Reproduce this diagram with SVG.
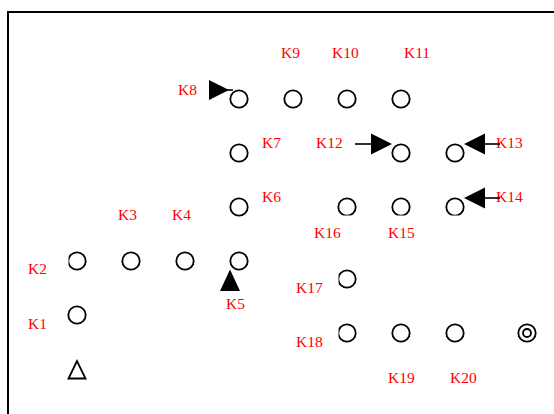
<svg xmlns="http://www.w3.org/2000/svg" width="554" height="414" viewBox="0 0 554 414">
  <style>
    .frame { fill: none; stroke: #000; stroke-width: 2; }
    .node { fill: none; stroke: #000; stroke-width: 1.8; }
    .lbl { font-family: "Liberation Serif", "Times New Roman", serif; font-size: 15.5px; fill: #ff0000; }
    .arrow { fill: #000; stroke: none; }
    .shaft { stroke: #000; stroke-width: 1.6; fill: none; }
    .open { fill: none; stroke: #000; stroke-width: 1.8; stroke-linejoin: miter; }
  </style>
  <defs>
    <!-- circles trimmed on one side by neighbouring label boxes -->
    <clipPath id="cutLeft77"><rect x="68.5" y="240" width="30" height="40"/></clipPath>
    <clipPath id="cutLeft347a"><rect x="338.5" y="260" width="30" height="40"/></clipPath>
    <clipPath id="cutLeft347b"><rect x="338.5" y="314" width="30" height="40"/></clipPath>
    <clipPath id="cutBottom207"><rect x="320" y="185" width="160" height="30.5"/></clipPath>
  </defs>

  <rect class="frame" x="8" y="12" width="560" height="420"/>

  <g id="nodes">
    <g id="K1"><circle class="node" cx="77" cy="315" r="8.7"/><text class="lbl" x="28" y="329">K1</text></g>
    <g id="K2"><circle class="node" cx="77" cy="261" r="8.7" clip-path="url(#cutLeft77)"/><text class="lbl" x="28" y="274">K2</text></g>
    <g id="K3"><circle class="node" cx="131" cy="261" r="8.7"/><text class="lbl" x="118" y="220">K3</text></g>
    <g id="K4"><circle class="node" cx="185" cy="261" r="8.7"/><text class="lbl" x="172" y="220">K4</text></g>
    <g id="K5"><circle class="node" cx="239" cy="261" r="8.7"/><text class="lbl" x="226" y="309">K5</text></g>
    <g id="K6"><circle class="node" cx="239" cy="207" r="8.7"/><text class="lbl" x="262" y="202">K6</text></g>
    <g id="K7"><circle class="node" cx="239" cy="153" r="8.7"/><text class="lbl" x="262" y="148">K7</text></g>
    <g id="K8"><circle class="node" cx="239" cy="99" r="8.7"/><text class="lbl" x="178" y="95">K8</text></g>
    <g id="K9"><circle class="node" cx="293" cy="99" r="8.7"/><text class="lbl" x="281" y="58">K9</text></g>
    <g id="K10"><circle class="node" cx="347" cy="99" r="8.7"/><text class="lbl" x="332" y="58">K10</text></g>
    <g id="K11"><circle class="node" cx="401" cy="99" r="8.7"/><text class="lbl" x="404" y="58">K11</text></g>
    <g id="K12"><circle class="node" cx="401" cy="153" r="8.7"/><text class="lbl" x="316" y="148">K12</text></g>
    <g id="K13"><circle class="node" cx="455" cy="153" r="8.7"/><text class="lbl" x="496" y="148">K13</text></g>
    <g id="K14"><circle class="node" cx="455" cy="207" r="8.7" clip-path="url(#cutBottom207)"/><text class="lbl" x="496" y="202">K14</text></g>
    <g id="K15"><circle class="node" cx="401" cy="207" r="8.7" clip-path="url(#cutBottom207)"/><text class="lbl" x="388" y="238">K15</text></g>
    <g id="K16"><circle class="node" cx="347" cy="207" r="8.7" clip-path="url(#cutBottom207)"/><text class="lbl" x="314" y="238">K16</text></g>
    <g id="K17"><circle class="node" cx="347" cy="279" r="8.7" clip-path="url(#cutLeft347a)"/><text class="lbl" x="296" y="293">K17</text></g>
    <g id="K18"><circle class="node" cx="347" cy="333" r="8.7" clip-path="url(#cutLeft347b)"/><text class="lbl" x="296" y="347">K18</text></g>
    <g id="K19"><circle class="node" cx="401" cy="333" r="8.7"/><text class="lbl" x="388" y="383">K19</text></g>
    <g id="K20"><circle class="node" cx="455" cy="333" r="8.7"/><text class="lbl" x="450" y="383">K20</text></g>
    <g id="target"><circle class="node" cx="527" cy="333" r="8.7"/><circle class="node" cx="527" cy="333" r="4"/></g>
    <g id="start"><polygon class="open" points="77,361 68.5,378.5 85.5,378.5"/></g>
  </g>

  <g id="connectors">
    <!-- K8 entry arrow -->
    <line class="shaft" x1="225" y1="90" x2="233" y2="90"/>
    <polygon class="arrow" points="209,80 209,100 229,90"/>
    <!-- K12 arrow -->
    <line class="shaft" x1="355" y1="144" x2="376" y2="144"/>
    <polygon class="arrow" points="371,133.5 371,154.5 392,144"/>
    <!-- K13 arrow -->
    <line class="shaft" x1="480" y1="144" x2="500" y2="144"/>
    <polygon class="arrow" points="485,133.5 485,154.5 464,144"/>
    <!-- K14 arrow -->
    <line class="shaft" x1="480" y1="198" x2="500" y2="198"/>
    <polygon class="arrow" points="485,187.5 485,208.5 464,198"/>
    <!-- K5 arrow -->
    <polygon class="arrow" points="230,269.5 220,291 240,291"/>
  </g>
</svg>
